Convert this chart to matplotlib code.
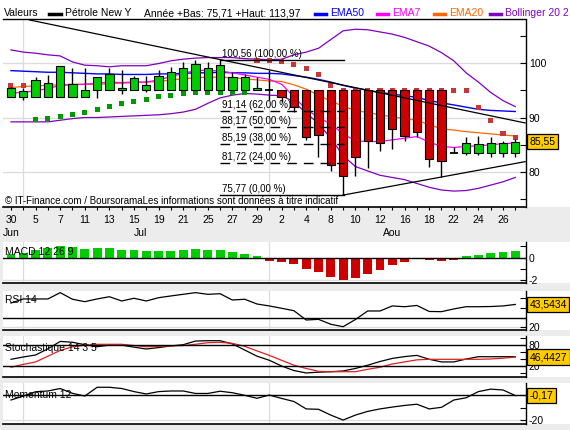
import numpy as np
import matplotlib.pyplot as plt
from matplotlib.patches import Rectangle
from matplotlib.lines import Line2D

plt.rcParams['font.family'] = ['Liberation Sans', 'DejaVu Sans']
plt.rcParams['font.size'] = 7.5

W, H = 570, 430

# trading days Jun 30 -> Aug 29
days = [30, 1, 5, 6, 7, 8, 11, 12, 13, 14, 15, 18, 19, 20, 21, 22, 25, 26, 27, 28, 29,
        1, 2, 3, 4, 5, 8, 9, 10, 11, 12, 15, 16, 17, 18, 19, 22, 23, 24, 25, 26, 29]
months = ['Jun'] + ['Jul'] * 20 + ['Aou'] * 21

opens = [93.7, 93.7, 93.7, 93.7, 93.7, 93.7, 93.7, 95.0, 95.0, 95.0,
         95.0, 95.0, 95.0, 95.0, 95.0, 95.0, 95.0, 95.0, 95.0, 95.0,
         95.0, 95.0, 95.0, 95.0, 95.0, 95.0, 95.0, 95.0, 95.0, 95.0,
         95.0, 95.0, 95.0, 95.0, 95.0, 95.0, 83.4, 83.4, 83.4, 83.4,
         83.4, 83.4]
highs = [95.6, 95.4, 97.4, 97.8, 99.4, 99.1, 99.1, 97.4, 99.1, 98.8,
         97.6, 97.6, 98.8, 99.2, 100.2, 100.5, 100.1, 100.56, 98.3, 97.9,
         97.4, 98.7, 95.0, 95.0, 95.0, 95.0, 95.0, 95.0, 95.0, 95.0,
         95.0, 95.0, 95.0, 95.0, 95.0, 95.0, 84.6, 86.4, 86.6, 86.4,
         85.6, 86.1]
lows = [93.7, 93.2, 93.7, 93.7, 93.7, 93.7, 93.7, 93.5, 95.0, 94.4,
        95.0, 94.6, 95.0, 95.0, 95.0, 95.0, 95.0, 95.0, 95.0, 95.0,
        95.0, 93.2, 92.9, 91.1, 85.9, 82.7, 80.1, 75.77, 79.3, 80.8,
        83.9, 84.3, 85.6, 86.5, 81.0, 79.1, 83.4, 83.2, 83.2, 82.8,
        82.8, 82.8]
closes = [95.35, 94.9, 96.8, 96.4, 99.4, 96.1, 95.0, 97.4, 97.9, 95.5,
          97.2, 95.9, 97.7, 98.3, 99.0, 99.8, 99.1, 99.6, 97.4, 97.4,
          95.5, 95.0, 93.7, 91.9, 86.5, 86.7, 81.2, 79.2, 82.7, 85.6,
          85.3, 87.8, 86.6, 87.4, 82.3, 82.1, 83.4, 85.3, 85.1, 85.3,
          85.3, 85.55]

ema7 = [94.5, 94.6, 94.9, 95.3, 95.9, 96.0, 96.1, 96.3, 96.5, 96.4,
        96.5, 96.5, 96.9, 97.5, 98.1, 98.6, 98.7, 98.5, 98.2, 97.8,
        97.4, 97.0, 96.1, 93.8, 91.5, 90.0, 88.8, 87.0, 85.7, 85.6,
        85.6, 85.9, 86.2, 86.5, 85.5, 84.7, 84.5, 84.7, 84.8, 85.0,
        85.2, 85.3]
ema20 = [95.5, 95.7, 95.8, 95.9, 96.0, 96.1, 96.1, 96.1, 96.2, 96.3,
         96.4, 96.5, 96.6, 96.9, 97.1, 97.3, 97.4, 97.4, 97.3, 97.1,
         96.9, 96.7, 96.6, 96.0, 95.2, 94.1, 93.0, 92.1, 91.3, 90.9,
         90.5, 90.1, 89.8, 89.5, 88.7, 87.9, 87.7, 87.4, 87.2, 87.0,
         86.8, 86.6]
ema50 = [98.6, 98.5, 98.4, 98.3, 98.3, 98.2, 98.1, 98.0, 98.0, 97.9,
         97.9, 97.9, 98.0, 98.0, 98.1, 98.2, 98.2, 98.3, 98.2, 98.2,
         98.1, 98.1, 98.0, 97.7, 97.4, 97.0, 96.5, 95.9, 95.4, 95.0,
         94.6, 94.3, 94.0, 93.7, 93.1, 92.7, 92.3, 91.9, 91.5, 91.3,
         91.2, 91.1]
boll_up = [102.4, 102.0, 101.8, 101.5, 101.3, 100.2, 99.6, 99.5, 99.3, 99.5,
           99.5, 99.5, 99.9, 100.4, 100.7, 100.9, 101.0, 101.0, 101.0, 100.8,
           100.7, 100.6, 100.7, 101.5, 102.0, 102.7, 104.3, 105.9, 106.2, 106.1,
           105.7, 105.3, 104.7, 103.9, 103.1, 101.9, 100.4, 98.2, 96.5, 94.6,
           93.1, 92.0]
boll_low = [89.2, 89.2, 89.2, 89.2, 89.5, 89.8, 90.0, 90.0, 90.1, 90.2,
            90.3, 90.4, 90.5, 90.7, 91.0, 91.5, 92.6, 93.6, 94.1, 94.4,
            94.3, 94.1, 94.0, 92.9, 90.8, 88.9, 86.2, 83.0, 81.0, 80.2,
            79.4, 79.0, 78.6, 77.9, 77.2, 76.7, 76.5, 76.6, 77.0, 77.6,
            78.2, 79.0]
sar = [95.8, 95.8, 89.7, 89.8, 90.1, 90.5, 91.0, 91.5, 92.1, 92.5,
       92.85, 93.35, 93.8, 94.1, 94.4, 94.6, 94.6, 94.6, 94.6, 94.6,
       100.4, 100.4, 100.2, 99.8, 99.0, 97.8, 95.8, 95.0, 95.0, 95.0,
       95.0, 95.0, 95.0, 95.0, 95.0, 95.0, 95.0, 95.0, 91.9, 89.4,
       87.1, 86.4]

# trend lines (index, price) and fibonacci retracement
resist_x = [1.5, 41.8]
resist_y = [107.9, 89.0]
support_x = [27, 41.8]
support_y = [75.77, 81.9]
fib_start, fib_end = 17, 27.1
fib_values = [100.56, 91.14, 88.17, 85.19, 81.72, 75.77]
fib_pcts = [100, 62, 50, 38, 24, 0]

macd_hist = [0.3, 0.45, 0.68, 0.85, 1.04, 0.95, 0.74, 0.83, 0.83, 0.65,
             0.65, 0.56, 0.56, 0.56, 0.65, 0.74, 0.65, 0.65, 0.5, 0.32,
             0.11, -0.27, -0.36, -0.54, -0.98, -1.25, -1.70, -1.96, -1.82, -1.43,
             -1.07, -0.63, -0.36, -0.12, -0.18, -0.27, -0.21, 0.15, 0.24, 0.45,
             0.51, 0.6]
rsi = [45.0, 49.2, 49.2, 49.2, 55.7, 48.9, 46.4, 49.2, 51.5, 47.1,
       49.9, 47.1, 50.5, 52.3, 54.0, 55.7, 54.0, 54.6, 48.1, 48.9,
       44.0, 42.0, 39.6, 37.1, 27.5, 28.2, 23.1, 20.6, 28.0, 36.8,
       36.8, 42.0, 41.2, 42.5, 36.3, 36.1, 38.9, 41.2, 41.2, 41.4,
       42.0, 43.5434]
stoch_k = [40.0, 46.6, 52.3, 70.0, 91.1, 88.7, 81.7, 75.8, 80.5, 80.5,
           74.7, 69.4, 73.5, 78.2, 81.7, 92.2, 93.2, 93.2, 84.0, 66.5,
           48.9, 37.2, 20.8, 7.9, 0.9, 3.2, 4.4, 6.7, 13.8, 23.1,
           33.7, 42.5, 47.7, 51.2, 40.0, 32.5, 32.5, 40.7, 47.4, 47.4,
           47.4, 47.4]
stoch_d = [17.2, 25.5, 32.5, 48.9, 65.3, 75.8, 80.5, 82.9, 82.9, 82.9,
           79.3, 75.8, 77.0, 78.2, 79.3, 82.9, 87.5, 88.5, 85.7, 77.0,
           64.1, 51.2, 37.2, 23.1, 13.8, 5.6, 4.5, 4.5, 4.5, 11.4,
           17.3, 26.6, 32.5, 38.4, 40.0, 40.0, 40.0, 40.0, 40.0, 41.0,
           43.1, 46.4427]
momentum = [-3.8, -0.6, 2.9, 3.5, 5.5, 1.6, -0.6, 6.5, 6.5, 5.5,
            3.0, 1.1, 3.0, 3.5, 3.5, 1.5, 1.5, 3.3, 2.1, 0.0,
            -2.4, 0.2, -2.5, -5.0, -11.0, -11.3, -16.0, -20.0, -16.0, -13.0,
            -11.0, -9.5, -8.2, -7.2, -11.0, -9.7, -3.8, -2.0, 3.0, 5.0,
            4.3, -0.17]

n = len(closes)
x = np.arange(n)
XLIM = (-0.65, 41.87)
GRID = '#dcdcdc'
GOLD = '#ffcc00'
GREEN = '#00cc00'
RED = '#cc0000'
month_starts = [i for i in range(1, n) if months[i] != months[i - 1]]


def fx(px):
    return px / W


def fy(py):
    return 1 - py / H


def fr(v, d):
    return f'{v:.{d}f}'.replace('.', ',')


fig = plt.figure(figsize=(W / 100, H / 100), dpi=100, facecolor='#ececec')


def white_band(x0, y0, x1, y1):
    fig.patches.append(Rectangle((fx(x0), fy(y1)), (x1 - x0) / W, (y1 - y0) / H,
                                 transform=fig.transFigure, fc='white', ec='none', zorder=-5))


def panel(x0, y0, x1, y1, ylim):
    ax = fig.add_axes([fx(x0), fy(y1), (x1 - x0) / W, (y1 - y0) / H])
    ax.set_xlim(*XLIM)
    ax.set_ylim(*ylim)
    ax.set_facecolor('white')
    ax.spines[['top', 'left']].set_visible(False)
    ax.spines['right'].set_linewidth(1.0)
    ax.spines['bottom'].set_linewidth(1.2)
    ax.yaxis.tick_right()
    ax.tick_params(axis='y', direction='in', length=4, width=0.8, pad=2, labelsize=7.5)
    ax.tick_params(axis='x', bottom=False, labelbottom=False)
    for m in month_starts:
        ax.axvline(m, color=GRID, lw=0.9, zorder=0)
    return ax


def value_box(ax, y, text):
    ax.annotate(text, xy=(1, y), xycoords=('axes fraction', 'data'), xytext=(2.5, 0),
                textcoords='offset points', ha='left', va='center', fontsize=7.5,
                annotation_clip=False, zorder=10,
                bbox=dict(boxstyle='square,pad=0.25', fc=GOLD, ec='black', lw=0.9))


# ---- header ----
white_band(0, 0, W, 207)
hy = fy(13.5)
fig.text(fx(4), hy, 'Valeurs', va='center')
fig.add_artist(Line2D([fx(49), fx(61)], [hy, hy], color='black', lw=2.5))
fig.text(fx(65), hy, 'Pétrole New Y', va='center')
fig.text(fx(144), hy, 'Année +Bas: 75,71 +Haut: 113,97', va='center')
legend_items = [('EMA50', '#0000ff', 315), ('EMA7', '#ff00ff', 377),
                ('EMA20', '#ff6600', 434), ('Bollinger 20 2', '#8000c0', 490)]
for name, col, x0 in legend_items:
    fig.add_artist(Line2D([fx(x0), fx(x0 + 11)], [hy, hy], color=col, lw=2.5))
    fig.text(fx(x0 + 15), hy, name, va='center', color=col)
fig.add_artist(Line2D([fx(3), fx(526)], [fy(19), fy(19)], color='black', lw=1))

# ---- main price panel ----
ax = panel(3, 20, 526, 207, (73.58, 107.89))
ax.set_yticks([75, 80, 85, 90, 95, 100, 105])
ax.set_yticklabels(['', '80', '', '90', '', '100', ''])
for lv in (80, 90, 100):
    ax.axhline(lv, color=GRID, lw=1, zorder=0)
ax.set_xticks(x)
ax.set_xticklabels([str(d) if i % 2 == 0 else '' for i, d in enumerate(days)])
ax.tick_params(axis='x', bottom=True, labelbottom=True, direction='out',
               length=2.5, width=0.8, pad=3, labelsize=7.5)
for m in dict.fromkeys(months):
    idx = [i for i, mm in enumerate(months) if mm == m]
    ax.annotate(m, xy=(np.mean(idx), 0), xycoords=('data', 'axes fraction'),
                xytext=(0, -19), textcoords='offset points', ha='center', va='center',
                annotation_clip=False)

ax.plot(x, boll_up, color='#8000c0', lw=0.9, zorder=1)
ax.plot(x, boll_low, color='#8000c0', lw=0.9, zorder=1)
ax.plot(x, ema50, color='#0000ff', lw=1.0, zorder=1)
ax.plot(x, ema20, color='#ff6600', lw=0.9, zorder=1)
ax.plot(x, ema7, color='#ff00ff', lw=0.9, zorder=1)

c = np.array(closes)
o = np.array(opens)
s = np.array(sar)
sar_cols = np.where(s > c, '#c83737', '#009900')
ax.scatter(x, s, marker='s', s=13, c=sar_cols, linewidths=0, zorder=2)

up = c > o
dn = c < o
dj = c == o
ax.vlines(x, lows, highs, color='black', lw=1, zorder=3)
ax.bar(x[up], (c - o)[up], bottom=o[up], width=0.68, color=GREEN, edgecolor='black', lw=0.8, zorder=4)
ax.bar(x[dn], (o - c)[dn], bottom=c[dn], width=0.68, color=RED, edgecolor='black', lw=0.8, zorder=4)
ax.hlines(o[dj], x[dj] - 0.34, x[dj] + 0.34, color='black', lw=1.3, zorder=4)

ax.plot(resist_x, resist_y, color='black', lw=0.9, zorder=5)
ax.plot(support_x, support_y, color='black', lw=0.9, zorder=5)
for v, p in zip(fib_values, fib_pcts):
    ls = '-' if p in (0, 100) else (0, (7, 5))
    ax.plot([fib_start, fib_end], [v, v], color='black', lw=1, ls=ls, zorder=5)
    ax.annotate(f'{fr(v, 2)} ({fr(p, 2)} %)', xy=(fib_start, v), xytext=(1.5, 0.8),
                textcoords='offset points', ha='left', va='bottom', fontsize=7, zorder=6)

ax.text(0.004, 0.034, '© IT-Finance.com / BoursoramaLes informations sont données à titre indicatif',
        transform=ax.transAxes, fontsize=7, va='center', zorder=6)
value_box(ax, closes[-1], fr(closes[-1], 2))

# ---- MACD ----
white_band(3, 242, W, 283)
axm = panel(3, 242, 526, 283, (-2.26, 1.40))
axm.bar(x, macd_hist, width=0.72, color=[GREEN if v >= 0 else RED for v in macd_hist], zorder=2)
axm.axhline(0, color='black', lw=1, zorder=3)
axm.axhline(-2, color=GRID, lw=1, zorder=0)
axm.set_yticks([-2, -1, 0, 1])
axm.set_yticklabels(['-2', '', '0', ''])
axm.text(0.004, 0.76, 'MACD 12 26 9', transform=axm.transAxes, va='center', zorder=4)

# ---- RSI ----
white_band(3, 291, W, 330)
axr = panel(3, 291, 526, 330, (17.2, 57.4))
axr.plot(x, rsi, color='black', lw=0.9, zorder=2)
axr.axhline(30, color='black', lw=1, zorder=3)
axr.axhline(20, color=GRID, lw=1, zorder=0)
axr.set_yticks([20, 30, 40, 50])
axr.set_yticklabels(['20', '', '', ''])
axr.text(0.004, 0.77, 'RSI 14', transform=axr.transAxes, va='center', zorder=4)
value_box(axr, rsi[-1], fr(rsi[-1], 4))

# ---- Stochastic ----
white_band(3, 336, W, 377)
axs = panel(3, 336, 526, 377, (-10.6, 106.6))
axs.plot(x, stoch_k, color='black', lw=0.9, zorder=2)
axs.plot(x, stoch_d, color='#dd2020', lw=0.9, zorder=2)
axs.axhline(80, color='black', lw=1, zorder=3)
axs.axhline(20, color='black', lw=1, zorder=3)
axs.set_yticks([0, 20, 40, 60, 80, 100])
axs.set_yticklabels(['', '20', '', '', '80', ''])
axs.text(0.004, 0.71, 'Stochastique 14 3 5', transform=axs.transAxes, va='center', zorder=4)
value_box(axs, stoch_d[-1], fr(stoch_d[-1], 4))

# ---- Momentum ----
white_band(3, 383, W, 424)
axo = panel(3, 383, 526, 424, (-23.2, 9.96))
axo.plot(x, momentum, color='black', lw=0.9, zorder=2)
axo.axhline(0, color='black', lw=1, zorder=3)
axo.axhline(-20, color=GRID, lw=1, zorder=0)
axo.set_yticks([-20, -10, 0])
axo.set_yticklabels(['-20', '', ''])
axo.text(0.004, 0.71, 'Momentum 12', transform=axo.transAxes, va='center', zorder=4)
value_box(axo, momentum[-1], fr(momentum[-1], 2))

fig.savefig('out.png', dpi=100, facecolor=fig.get_facecolor())
